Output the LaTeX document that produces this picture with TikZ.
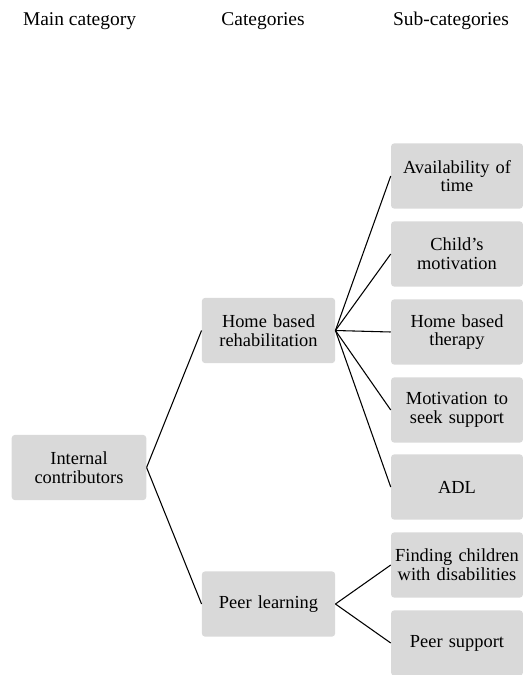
\documentclass[tikz,border=0pt]{standalone}
\usepackage{fontspec}
\setmainfont{Liberation Serif}
\usepackage{tikz}
\tikzset{
  catbox/.style={fill=boxgrey,rounded corners=2.5pt,align=center,text width=96pt,
    inner xsep=1.5pt,minimum height=49pt,font=\fontsize{13.8}{14}\selectfont},
  headtext/.style={font=\fontsize{14.6}{16}\selectfont},
  link/.style={draw=black,line width=0.8pt}
}
\definecolor{boxgrey}{HTML}{D9D9D9}
\begin{document}
\begin{tikzpicture}[x=0.75pt,y=-0.75pt]
\useasboundingbox (0,0) rectangle (523,675);
\node[headtext] (hmain) at (79.5,21) {Main category};
\node[headtext] (hcat) at (263,21) {Categories};
\node[headtext] (hsub) at (451,21) {Sub-categories};
\node[catbox,text width=98pt] (main) at (79,467.5) {Internal\\contributors};
\node[catbox,text width=97pt] (home) at (268.5,330.5) {Home based\\rehabilitation};
\node[catbox,text width=97pt] (peer) at (268.5,604) {Peer learning};
\node[catbox] (avail) at (457,176) {Availability of\\time};
\node[catbox] (childmot) at (457,254) {Child’s\\motivation};
\node[catbox] (hometh) at (457,332) {Home based\\therapy};
\node[catbox] (motseek) at (457,410) {Motivation to\\seek support};
\node[catbox] (adl) at (457,487) {ADL};
\node[catbox] (finding) at (457,565) {Finding children\\with disabilities};
\node[catbox] (peersup) at (457,643) {Peer support};
\draw[link] (main.east) -- (home.west);
\draw[link] (main.east) -- (peer.west);
\foreach \sub in {avail,childmot,hometh,motseek,adl}
  \draw[link] (home.east) -- (\sub.west);
\foreach \sub in {finding,peersup}
  \draw[link] (peer.east) -- (\sub.west);
\end{tikzpicture}
\end{document}
